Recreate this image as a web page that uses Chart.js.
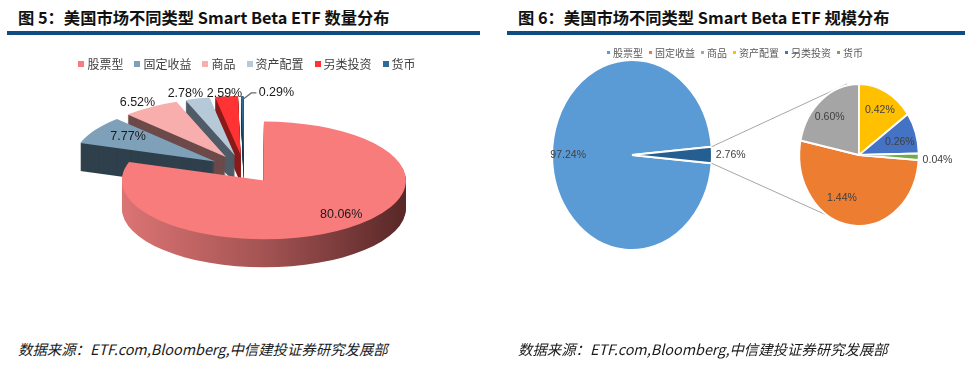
<!DOCTYPE html>
<html>
<head>
<meta charset="utf-8">
<script src="https://cdn.jsdelivr.net/npm/chart.js"></script>
<style>
  body { margin: 0; width: 972px; height: 366px; position: relative; background: #fff; overflow: hidden;
         font-family: "Noto Sans CJK SC", "Noto Sans", sans-serif; }
  .title { position: absolute; top: 5px; font-size: 16.3px; font-weight: bold; color: #111; white-space: nowrap; }
  .rule { position: absolute; top: 31px; height: 4px; background: #0f4c81; }
  .src { position: absolute; top: 338px; font-size: 14.4px; font-style: italic; color: #1a1a1a; white-space: nowrap; }
  .legend { position: absolute; display: flex; justify-content: center; white-space: nowrap; }
  .legend span { display: inline-flex; align-items: center; }
  .legend i { display: inline-block; }
  canvas { position: absolute; }
</style>
</head>
<body>
<div class="title" style="left:18px">图 5：美国市场不同类型 Smart Beta ETF 数量分布</div>
<div class="rule" style="left:7px;width:473px"></div>
<div class="title" style="left:518px">图 6：美国市场不同类型 Smart Beta ETF 规模分布</div>
<div class="rule" style="left:507px;width:458px"></div>

<canvas id="countPie" width="486" height="330" style="left:0;top:0"></canvas>
<canvas id="sizeMain" width="486" height="290" style="left:486px;top:40px"></canvas>
<canvas id="sizeOther" width="486" height="290" style="left:486px;top:40px"></canvas>

<div id="legendLeft" class="legend" style="left:0;top:55px;width:494px;font-size:12px;color:#404040;gap:11px"></div>
<div id="legendRight" class="legend" style="left:600px;top:45px;width:270px;font-size:10px;color:#595959;gap:6px"></div>

<div class="src" style="left:18px">数据来源：ETF.com,Bloomberg,中信建投证券研究发展部</div>
<div class="src" style="left:518px">数据来源：ETF.com,Bloomberg,中信建投证券研究发展部</div>

<script>
// 数据
const categories = ["股票型", "固定收益", "商品", "资产配置", "另类投资", "货币"];
const countShare = [80.06, 7.77, 6.52, 2.78, 2.59, 0.29];
const sizeMain = [97.24, 2.76];
const otherCategories = ["固定收益", "商品", "资产配置", "另类投资", "货币"];
const sizeOther = [1.44, 0.60, 0.42, 0.26, 0.04];

// 颜色
const leftColors = ["#F87C7C", "#7FA0B9", "#F9AEAE", "#B6C9D9", "#FF3333", "#2F6B96"];
const leftSides = ["#5c2a2a", "#2f404c", "#6d4a4a", "#4f5b66", "#8a1b1b", "#1b3b55"];
const rightColors = ["#5B9BD5", "#ED7D31", "#A5A5A5", "#FFC000", "#4472C4", "#70AD47"];
const mainColors = [rightColors[0], "#255E91"];

const pct = v => v.toFixed(2) + "%";

// legends
function buildLegend(id, colors, box, gap) {
    const el = document.getElementById(id);
    categories.forEach((c, i) => {
        const s = document.createElement("span");
        s.innerHTML = `<i style="width:${box}px;height:${box}px;background:${colors[i]};margin-right:${gap}px"></i>${c}`;
        el.appendChild(s);
    });
}
buildLegend("legendLeft", leftColors, 6, 3);
buildLegend("legendRight", rightColors, 3, 3);

// ---- 图5: 3D 分离饼图 ----
const TILT = 0.415, DEPTH = 28, EXPLODE = 34;
const leftLabelShift = [[-6, -14], [33, 6], [-13, -5], [-12, -5], [-2, -3], [34, -3]];

const pie3d = {
    id: "pie3d",
    afterDatasetsUpdate(chart) {
        chart.getDatasetMeta(0).data.forEach(a => {
            const h = (a.startAngle + a.endAngle) / 2;
            a.x += Math.cos(h) * EXPLODE;
            a.y += Math.sin(h) * EXPLODE;
        });
    },
    beforeDatasetsDraw(chart) {
        const ctx = chart.ctx;
        const ca = chart.chartArea;
        const cx = (ca.left + ca.right) / 2, cy = (ca.top + ca.bottom) / 2;
        const arcs = chart.getDatasetMeta(0).data;
        const order = arcs.map((a, i) => i).sort((i, j) => arcs[i].y - arcs[j].y);
        order.forEach(i => {
            const a = arcs[i];
            const sx = a.x, sy = cy + (a.y - cy) * TILT, r = a.outerRadius;
            ctx.save();
            if (i === 0) {
                const g = ctx.createLinearGradient(sx - r, 0, sx + r, 0);
                g.addColorStop(0, "#dc7474");
                g.addColorStop(0.5, "#a45353");
                g.addColorStop(1, "#582727");
                ctx.fillStyle = g;
            } else {
                ctx.fillStyle = leftSides[i];
            }
            for (let d = DEPTH; d > 0; d--) {
                ctx.beginPath();
                ctx.moveTo(sx, sy + d);
                ctx.ellipse(sx, sy + d, r, r * TILT, 0, a.startAngle, a.endAngle);
                ctx.closePath();
                ctx.fill();
            }
            ctx.restore();
        });
        ctx.save();
        ctx.translate(cx, cy);
        ctx.scale(1, TILT);
        ctx.translate(-cx, -cy);
    },
    afterDatasetsDraw(chart) {
        const ctx = chart.ctx;
        ctx.restore();
        const ca = chart.chartArea;
        const cy = (ca.top + ca.bottom) / 2;
        const arcs = chart.getDatasetMeta(0).data;
        ctx.save();
        ctx.font = '12.5px "Liberation Sans", sans-serif';
        ctx.fillStyle = "#1a1a1a";
        ctx.textAlign = "center";
        ctx.textBaseline = "middle";
        arcs.forEach((a, i) => {
            const h = (a.startAngle + a.endAngle) / 2;
            const sy = cy + (a.y - cy) * TILT;
            const ox = a.x + a.outerRadius * Math.cos(h);
            const oy = sy + a.outerRadius * TILT * Math.sin(h);
            const [dx, dy] = leftLabelShift[i];
            if (i === 5) {
                ctx.strokeStyle = "#6b6b6b";
                ctx.lineWidth = 1.3;
                ctx.beginPath();
                ctx.moveTo(ox + 1, oy + 3);
                ctx.lineTo(ox + 9, oy - 3);
                ctx.lineTo(ox + 14, oy - 3);
                ctx.stroke();
            }
            ctx.fillText(pct(countShare[i]), ox + dx, oy + dy);
        });
        ctx.restore();
    }
};

new Chart(document.getElementById("countPie"), {
    type: "pie",
    data: {
        labels: categories,
        datasets: [{
            data: countShare,
            backgroundColor: leftColors,
            borderWidth: 0,
            radius: 142,
            clip: false
        }]
    },
    options: {
        responsive: false,
        animation: false,
        events: [],
        layout: { padding: { left: 2, right: 0, top: 8, bottom: 0 } },
        plugins: { legend: { display: false }, tooltip: { enabled: false } }
    },
    plugins: [pie3d]
});

// ---- 图6: 复合饼图 ----
const SQUEEZE = 0.84;
// 第二饼图标签的位置系数 [x, y]
const otherLabelPos = [[1.0, 0.62], [0.78, 0.68], [0.76, 0.72], [0.72, 0.6]];

function squeezePlugin(id, drawExtra, drawLabels) {
    return {
        id: id,
        beforeDatasetsDraw(chart) {
            const ctx = chart.ctx;
            const ca = chart.chartArea;
            const cx = (ca.left + ca.right) / 2, cy = (ca.top + ca.bottom) / 2;
            if (drawExtra) drawExtra(chart);
            ctx.save();
            ctx.translate(cx, cy);
            ctx.scale(SQUEEZE, 1);
            ctx.translate(-cx, -cy);
        },
        afterDatasetsDraw(chart) {
            const ctx = chart.ctx;
            ctx.restore();
            const ca = chart.chartArea;
            const cx = (ca.left + ca.right) / 2;
            ctx.save();
            ctx.font = '10.5px "Liberation Sans", sans-serif';
            ctx.fillStyle = "#404040";
            ctx.textBaseline = "middle";
            chart.getDatasetMeta(0).data.forEach((a, i) => {
                const h = (a.startAngle + a.endAngle) / 2;
                drawLabels(ctx, i, cx, a.y, a.outerRadius, h);
            });
            ctx.restore();
        }
    };
}

const mainChart = new Chart(document.getElementById("sizeMain"), {
    type: "pie",
    data: {
        labels: ["股票型", "其他"],
        datasets: [{
            data: sizeMain,
            backgroundColor: mainColors,
            borderColor: "#ffffff",
            borderWidth: 2,
            radius: 95
        }]
    },
    options: {
        responsive: false,
        animation: false,
        events: [],
        rotation: 90 + 180 * sizeMain[1] / 100,
        layout: { padding: { left: 0, right: 194, top: 0, bottom: 60 } },
        plugins: { legend: { display: false }, tooltip: { enabled: false } }
    },
    plugins: [squeezePlugin("mainSqueeze", null, (ctx, i, cx, cy, r, h) => {
        const text = pct(sizeMain[i]);
        if (i === 0) {
            ctx.textAlign = "center";
            ctx.fillText(text, cx + 0.8 * r * SQUEEZE * Math.cos(h), cy + 0.8 * r * Math.sin(h));
        } else {
            ctx.textAlign = "left";
            ctx.fillText(text, cx + r * SQUEEZE * Math.cos(h) + 4, cy + r * Math.sin(h));
        }
    })]
});

function drawConnectors(chart) {
    const ctx = chart.ctx;
    const ca = chart.chartArea;
    const cx = (ca.left + ca.right) / 2, cy = (ca.top + ca.bottom) / 2;
    const r2 = chart.getDatasetMeta(0).data[0].outerRadius;
    const ma = mainChart.getDatasetMeta(0).data[1];
    const mca = mainChart.chartArea;
    const mcx = (mca.left + mca.right) / 2, mcy = (mca.top + mca.bottom) / 2;
    const R = ma.outerRadius;
    const p1 = [mcx + R * SQUEEZE * Math.cos(ma.startAngle), mcy + R * Math.sin(ma.startAngle)];
    const p2 = [mcx + R * SQUEEZE * Math.cos(ma.endAngle), mcy + R * Math.sin(ma.endAngle)];
    ctx.save();
    ctx.strokeStyle = "#a6a6a6";
    ctx.lineWidth = 1;
    ctx.beginPath();
    ctx.moveTo(p1[0], p1[1]);
    ctx.lineTo(cx - 12, cy - r2);
    ctx.moveTo(p2[0], p2[1]);
    ctx.lineTo(cx - 8, cy + r2);
    ctx.stroke();
    ctx.restore();
}

new Chart(document.getElementById("sizeOther"), {
    type: "pie",
    data: {
        labels: otherCategories,
        datasets: [{
            data: sizeOther,
            backgroundColor: rightColors.slice(1),
            borderColor: "#ffffff",
            borderWidth: 2,
            radius: 71
        }]
    },
    options: {
        responsive: false,
        animation: false,
        events: [],
        rotation: 94,
        layout: { padding: { left: 260, right: 0, top: 0, bottom: 60 } },
        plugins: { legend: { display: false }, tooltip: { enabled: false } }
    },
    plugins: [squeezePlugin("otherSqueeze", drawConnectors, (ctx, i, cx, cy, r, h) => {
        const text = pct(sizeOther[i]);
        if (i === sizeOther.length - 1) {
            ctx.textAlign = "left";
            ctx.fillText(text, cx + r * SQUEEZE * Math.cos(h) + 4, cy + r * Math.sin(h) + 3);
        } else {
            const [fx, fy] = otherLabelPos[i];
            const lx = i === 0 ? cx - 17 : cx + fx * r * SQUEEZE * Math.cos(h);
            ctx.textAlign = "center";
            ctx.fillText(text, lx, cy + fy * r * Math.sin(h));
        }
    })]
});
</script>
</body>
</html>
